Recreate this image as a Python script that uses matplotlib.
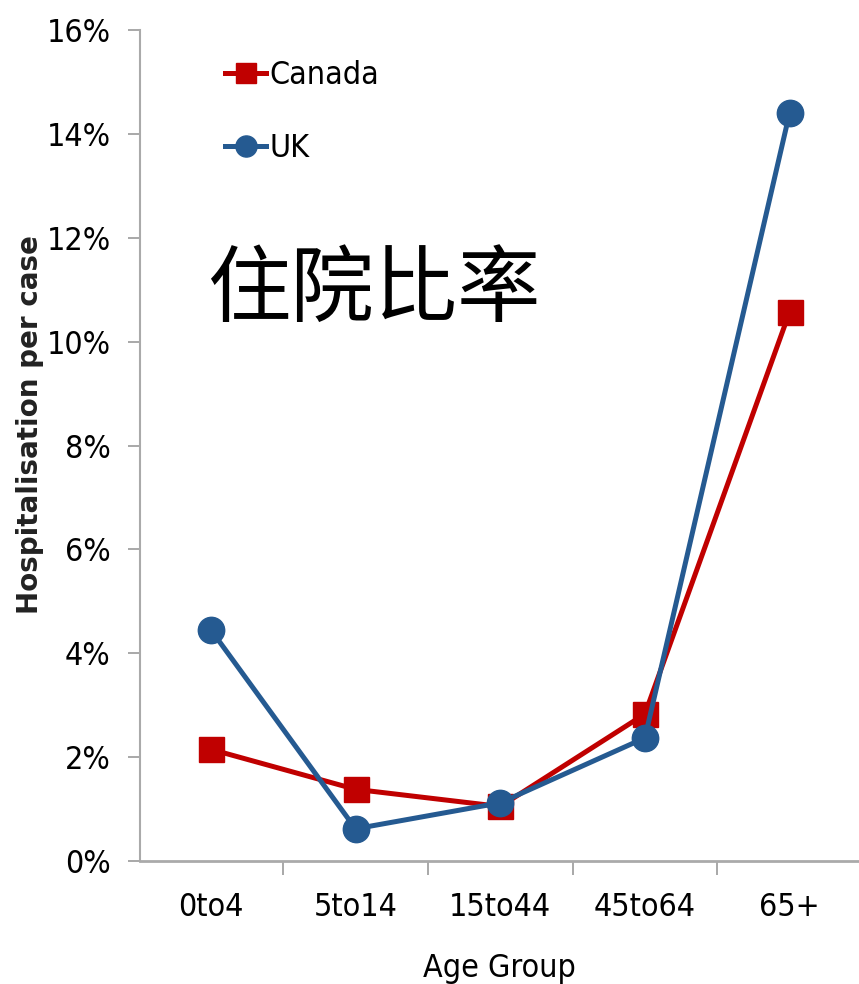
import matplotlib
matplotlib.use('Agg')
import numpy as np
import matplotlib.pyplot as plt
from matplotlib.ticker import FuncFormatter, FixedLocator

# data (hospitalisation per case, %)
age_groups = ['0to4', '5to14', '15to44', '45to64', '65+']
canada = [2.15, 1.38, 1.05, 2.83, 10.57]
uk = [4.45, 0.62, 1.12, 2.37, 14.4]
y_ticks = [0, 2, 4, 6, 8, 10, 12, 14, 16]

plt.rcParams['font.family'] = ['DejaVu Sans']
plt.rcParams['font.stretch'] = 'condensed'

fig = plt.figure(figsize=(8.59, 9.84), dpi=100)
ax = fig.add_axes([0.163, 0.125, 0.837, 0.8445])

x = np.arange(len(age_groups))
ax.plot(x, canada, color='#c00000', lw=3.6, marker='s', ms=18, label='Canada', zorder=3)
ax.plot(x, uk, color='#255a91', lw=3.6, marker='o', ms=19, label='UK', zorder=4)

ax.set_xlim(-0.49, 4.48)
ax.set_ylim(0, 16)
ax.set_yticks(y_ticks)
ax.yaxis.set_major_formatter(FuncFormatter(lambda v, p: '{:d}%'.format(int(v))))

# category labels centred, tick marks on the boundaries (Excel style)
ax.xaxis.set_major_locator(FixedLocator(x))
ax.set_xticklabels(age_groups)
ax.xaxis.set_minor_locator(FixedLocator(x[:-1] + 0.5))
ax.tick_params(axis='x', which='major', length=0, pad=22, labelsize=23)
ax.tick_params(axis='x', which='minor', length=10, width=1.2, color='#999999')
ax.tick_params(axis='y', length=9, width=1.2, color='#999999', labelsize=23, pad=12)

for s in ['top', 'right']:
    ax.spines[s].set_visible(False)
ax.spines['left'].set_color('#aaaaaa')
ax.spines['left'].set_linewidth(1.5)
ax.spines['bottom'].set_color('#aaaaaa')
ax.spines['bottom'].set_linewidth(2)

ax.set_xlabel('Age Group', fontsize=23, labelpad=22)
ax.set_ylabel('Hospitalisation per case', fontsize=20, fontweight='bold',
              fontstretch='normal', color='#222222')
ax.yaxis.set_label_coords(-0.133, 0.525)

leg = ax.legend(loc='upper left', bbox_to_anchor=(0.078, 0.998), frameon=False,
                fontsize=23, handlelength=1.3, handletextpad=0.1, labelspacing=1.3,
                markerscale=0.8)

ax.text(0.325, 0.686, '住院比率', transform=ax.transAxes, ha='center', va='center',
        fontsize=60, family=['Noto Sans CJK TC', 'DejaVu Sans'], fontweight='light',
        fontstretch='normal')

fig.savefig('out.png', dpi=100)
